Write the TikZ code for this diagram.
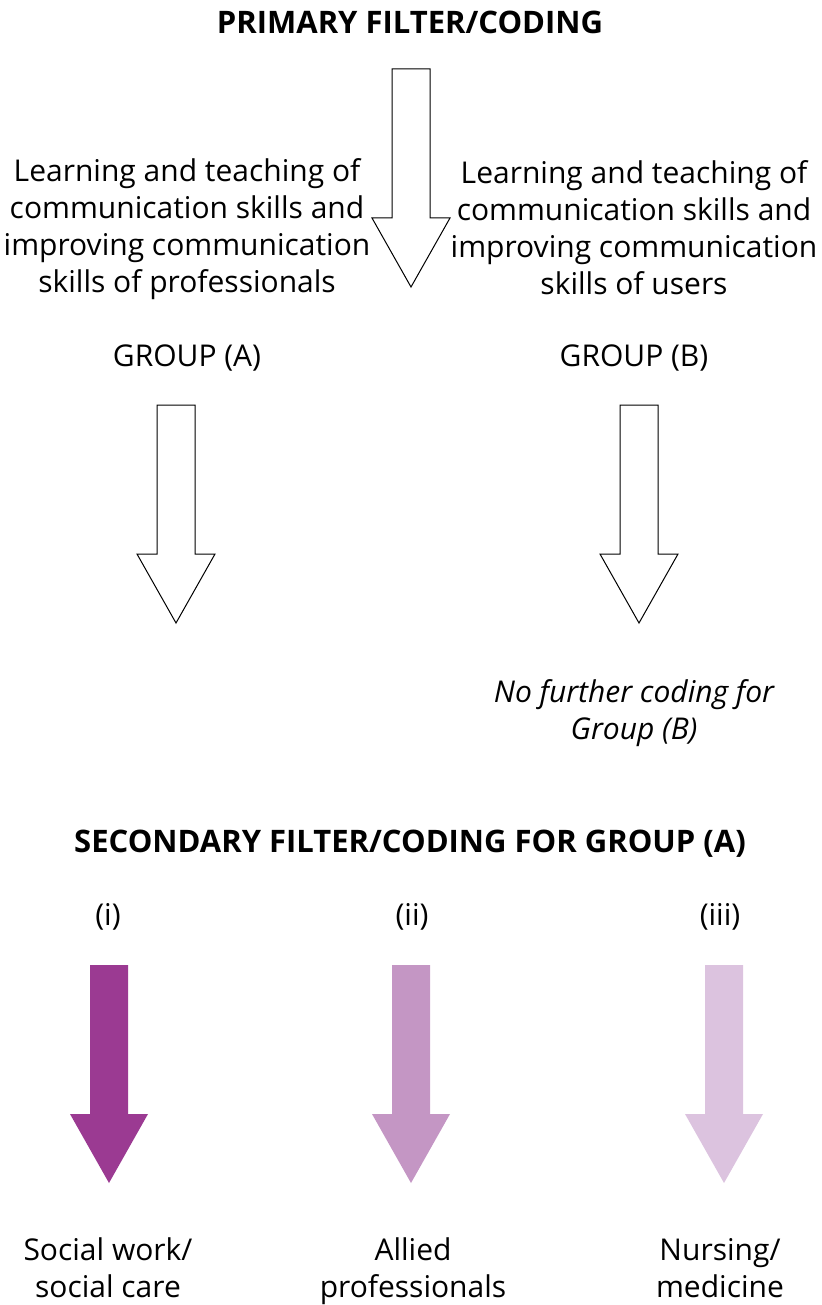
\documentclass[tikz,border=0pt]{standalone}
\usepackage{fontspec}
\setmainfont{Open Sans}
\definecolor{pdark}{HTML}{9B3A92}
\definecolor{pmid}{HTML}{C496C4}
\definecolor{plight}{HTML}{DCC3DF}
\newcommand{\blockarrow}[3]{%
  \path[#3] (#1-19,-#2) -- (#1+19,-#2) -- (#1+19,-#2-149) -- (#1+39,-#2-149)
    -- (#1,-#2-218) -- (#1-39,-#2-149) -- (#1-19,-#2-149) -- cycle;}
\tikzset{
  txt/.style={align=center, inner sep=0pt, font=\fontsize{30}{37}\selectfont},
  ttl/.style={align=center, inner sep=0pt, font=\fontsize{31}{37}\selectfont\bfseries},
  outlinearrow/.style={draw=black, line width=1pt, fill=white, line join=miter},
}
\begin{document}
\begin{tikzpicture}[x=1pt,y=1pt]
\useasboundingbox (0,0) rectangle (821,-1305);
\node[ttl] (t1) at (410,-22) {PRIMARY FILTER/CODING};
\blockarrow{411}{69}{outlinearrow}
\node[txt] (la) at (187,-229) {Learning and teaching of\\communication skills and\\improving communication\\skills of professionals};
\node[txt] (lb) at (634,-228) {Learning and teaching of\\communication skills and\\improving communication\\skills of users};
\node[txt] (ga) at (187,-358) {GROUP (A)};
\node[txt] (gb) at (634,-358) {GROUP (B)};
\blockarrow{176}{405}{outlinearrow}
\blockarrow{639}{405}{outlinearrow}
\node[txt, font=\fontsize{30}{37}\selectfont\itshape] (nf) at (634,-713) {No further coding for\\Group (B)};
\node[ttl] (t2) at (410,-844) {SECONDARY FILTER/CODING FOR GROUP (A)};
\node[txt] (c1) at (108,-917) {(i)};
\node[txt] (c2) at (412,-917) {(ii)};
\node[txt] (c3) at (720,-917) {(iii)};
\blockarrow{109}{965}{fill=pdark}
\blockarrow{411}{965}{fill=pmid}
\blockarrow{724}{965}{fill=plight}
\node[txt] (b1) at (108,-1268) {Social work/\\social care};
\node[txt] (b2) at (413,-1271) {Allied\\professionals};
\node[txt] (b3) at (720,-1268) {Nursing/\\medicine};
\end{tikzpicture}
\end{document}
